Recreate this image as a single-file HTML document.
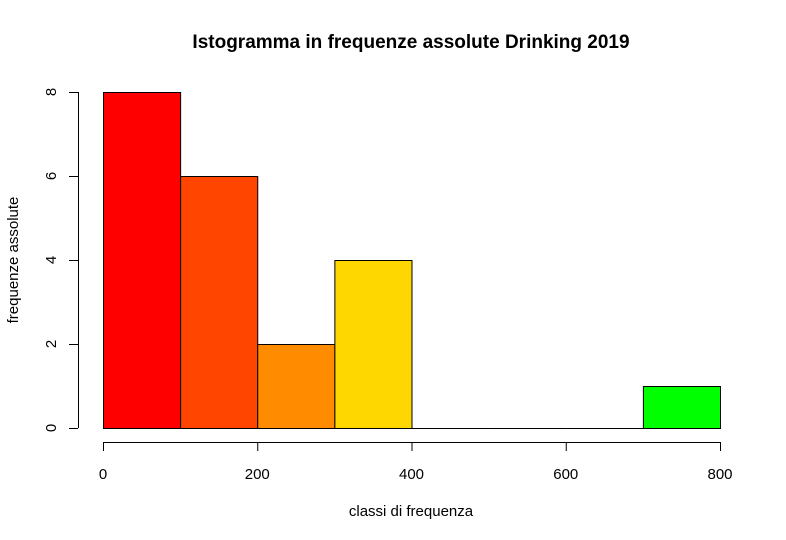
<!DOCTYPE html>
<html><head><meta charset="utf-8">
<style>html,body{margin:0;padding:0;background:#fff;}svg{display:block;font-family:"Liberation Sans",Arial,sans-serif;}</style>
</head><body>
<svg id="chart" width="786" height="540" viewBox="0 0 786 540">
<text x="411" y="48" text-anchor="middle" font-weight="bold" font-size="19">Istogramma in frequenze assolute Drinking 2019</text>
<text x="411" y="516" text-anchor="middle" font-size="15">classi di frequenza</text>
<text transform="translate(18,260) rotate(-90)" text-anchor="middle" font-size="15">frequenze assolute</text>
<g id="bars"></g><g id="axes"></g>
</svg>
<script>
const breaks = [0,100,200,300,400,500,600,700,800];
const counts = [8,6,2,4,0,0,0,1];
const colors = ["#FF0000","#FF4500","#FF8C00","#FFD700","#FFFFFF","#FFFFFF","#FFFFFF","#00FF00"];
const xTicks = [0,200,400,600,800];
const yTicks = [0,2,4,6,8];
const NS="http://www.w3.org/2000/svg";
const sx=v=>103+v*(617/800);
const sy=v=>428-v*42;
const bars=document.getElementById('bars'), axes=document.getElementById('axes');
function mk(tag,attrs,parent){const e=document.createElementNS(NS,tag);for(const k in attrs)e.setAttribute(k,attrs[k]);parent.appendChild(e);return e;}
counts.forEach((c,i)=>{
  const x0=sx(breaks[i]),x1=sx(breaks[i+1]);
  let r;
  if(c>0){
    r=mk('rect',{x:x0+0.5,y:sy(c)+0.5,width:x1-x0,height:sy(0)-sy(c),fill:colors[i],stroke:'#000','stroke-width':1},bars);
  } else {
    r=mk('line',{x1:x0+0.5,x2:x1+0.5,y1:sy(0)+0.5,y2:sy(0)+0.5,stroke:'#000','stroke-width':1},bars);
  }
  
  
});
const xl=mk('line',{x1:sx(xTicks[0]),x2:sx(xTicks[xTicks.length-1]),y1:442.5,y2:442.5,stroke:'#000'},axes);


xTicks.forEach(t=>{
  const l=mk('line',{x1:sx(t)+0.5,x2:sx(t)+0.5,y1:442,y2:451,stroke:'#000'},axes);
  
  
  const tx=mk('text',{x:sx(t),y:479,'text-anchor':'middle','font-size':15},axes);
  tx.textContent=t;
  
  
});
const yl=mk('line',{x1:78.5,x2:78.5,y1:sy(yTicks[0]),y2:sy(yTicks[yTicks.length-1]),stroke:'#000'},axes);


yTicks.forEach(t=>{
  const l=mk('line',{x1:69,x2:78,y1:sy(t)+0.5,y2:sy(t)+0.5,stroke:'#000'},axes);
  
  
  const tx=mk('text',{transform:`translate(56,${sy(t)}) rotate(-90)`,'text-anchor':'middle','font-size':15},axes);
  tx.textContent=t;
  
  
});
</script>
</body></html>
